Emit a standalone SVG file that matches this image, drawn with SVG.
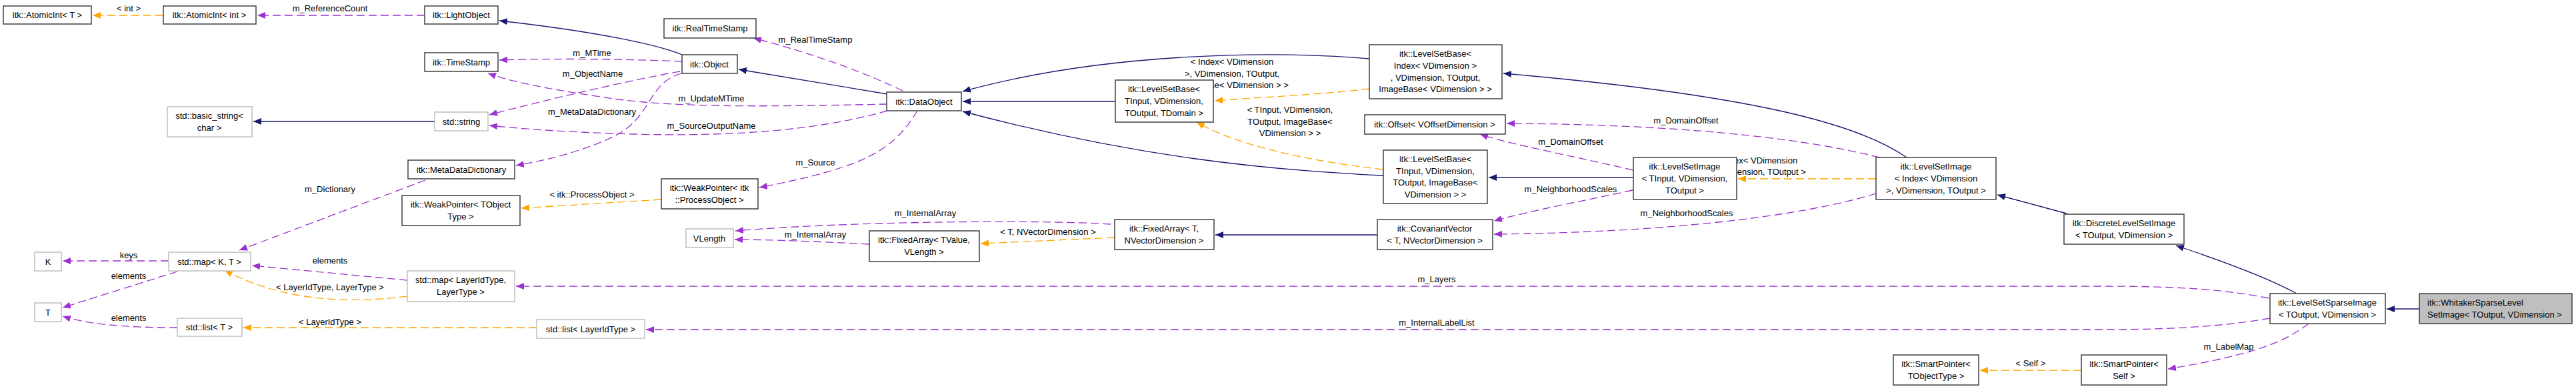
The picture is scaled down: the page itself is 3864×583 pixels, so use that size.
<svg xmlns="http://www.w3.org/2000/svg" width="3864" height="583" viewBox="0 0 3864 583">
<style>
text{font-family:"Liberation Sans",Arial,sans-serif;font-size:13px;fill:#000}
.n rect{fill:#fff;stroke:#404040;stroke-width:1.5}
.g rect{fill:#fff;stroke:#bfbfbf;stroke-width:1.5}
.c text{text-anchor:middle}
.e path{fill:none;stroke-width:1.3}
.inh{stroke:#191970}
.mem{stroke:#9a32cd;stroke-dasharray:12,6}
.tpl{stroke:#ffa500;stroke-dasharray:12,6}
.lbl text{text-anchor:middle}
</style>
<defs>
<marker id="an" viewBox="0 0 12 10" refX="12" refY="5" markerWidth="12" markerHeight="10" markerUnits="userSpaceOnUse" orient="auto"><path d="M0,0L12,5L0,10z" fill="#191970"/></marker>
<marker id="ap" viewBox="0 0 12 10" refX="12" refY="5" markerWidth="12" markerHeight="10" markerUnits="userSpaceOnUse" orient="auto"><path d="M0,0L12,5L0,10z" fill="#9a32cd"/></marker>
<marker id="ao" viewBox="0 0 12 10" refX="12" refY="5" markerWidth="12" markerHeight="10" markerUnits="userSpaceOnUse" orient="auto"><path d="M0,0L12,5L0,10z" fill="#ffa500"/></marker>
</defs>
<rect width="3864" height="583" fill="#fff"/>
<g id="connectors" class="e">
<g class="inh" marker-end="url(#an)">
<path d="M1023,82 C990,68 900,48 749,31"/>
<path d="M1331,141 L1108,104"/>
<path d="M2054,88 C1900,75 1650,80 1444,137"/>
<path d="M1673,152 L1444,152"/>
<path d="M2075,263 C1900,255 1700,235 1444,167"/>
<path d="M2066,352 L1823,352"/>
<path d="M2450,266 L2233,266"/>
<path d="M2860,236 C2780,180 2600,140 2255,110"/>
<path d="M3100,320 L2996,292"/>
<path d="M3445,440 C3400,415 3330,390 3264,368"/>
<path d="M3629,463 L3580,463"/>
<path d="M652,182 L380,182"/>
</g>
<g class="mem" marker-end="url(#ap)">
<path d="M637,23 L386,23"/>
<path d="M1023,92 C950,89 850,87 749,90"/>
<path d="M1020,107 C920,125 800,155 734,172"/>
<path d="M1022,110 C970,125 980,175 920,205 C870,228 820,240 774,248"/>
<path d="M1354,136 C1300,110 1220,80 1130,57"/>
<path d="M1331,156 C1150,160 1000,162 900,145 C820,133 770,123 732,110"/>
<path d="M1331,166 C1230,195 1100,205 950,201 C850,198 780,193 734,188"/>
<path d="M1376,166 C1340,225 1300,250 1139,281"/>
<path d="M638,270 L359,375"/>
<path d="M253,391 L94,391"/>
<path d="M266,407 L94,461"/>
<path d="M266,491 C180,491 130,485 94,474"/>
<path d="M611,420 L378,398"/>
<path d="M1666,336 C1580,330 1300,330 1103,346"/>
<path d="M1304,366 C1230,362 1150,359 1102,359"/>
<path d="M2450,255 C2350,232 2260,215 2220,201"/>
<path d="M2819,236 C2700,205 2500,186 2260,185"/>
<path d="M2449,285 C2380,300 2300,315 2241,331"/>
<path d="M2814,290 C2700,325 2500,348 2241,351"/>
<path d="M3403,447 C3330,432 3250,429 3150,429 L774,429"/>
<path d="M3405,477 C3330,490 3250,494 3150,494 L969,494"/>
<path d="M3463,485 C3430,510 3390,530 3252,553"/>
</g>
<g class="tpl" marker-end="url(#ao)">
<path d="M245,23 L139,23"/>
<path d="M992,299 L782,312"/>
<path d="M611,444 C520,456 420,450 337,405"/>
<path d="M805,491 L365,491"/>
<path d="M1672,356 L1471,365"/>
<path d="M2054,133 C1980,142 1900,145 1822,151"/>
<path d="M2075,254 C1950,240 1850,215 1795,183"/>
<path d="M2814,268 L2607,268"/>
<path d="M3122,555 L2970,555"/>
</g>
<g class="lbl">
<text x="495" y="17">m_ReferenceCount</text>
<text x="888" y="84">m_MTime</text>
<text x="889" y="115">m_ObjectName</text>
<text x="888" y="172">m_MetaDataDictionary</text>
<text x="1223" y="64">m_RealTimeStamp</text>
<text x="1067" y="152">m_UpdateMTime</text>
<text x="1067" y="193">m_SourceOutputName</text>
<text x="1223" y="248">m_Source</text>
<text x="495" y="288">m_Dictionary</text>
<text x="193" y="387">keys</text>
<text x="193" y="418">elements</text>
<text x="193" y="481">elements</text>
<text x="495" y="395">elements</text>
<text x="1388" y="324">m_InternalArray</text>
<text x="1223" y="356">m_InternalArray</text>
<text x="2356" y="217">m_DomainOffset</text>
<text x="2529" y="185">m_DomainOffset</text>
<text x="2356" y="288">m_NeighborhoodScales</text>
<text x="2530" y="324">m_NeighborhoodScales</text>
<text x="2155" y="423">m_Layers</text>
<text x="2155" y="488">m_InternalLabelList</text>
<text x="3343" y="524">m_LabelMap</text>
<text x="193" y="17">&lt; int &gt;</text>
<text x="888" y="296">&lt; itk::ProcessObject &gt;</text>
<text x="495" y="435">&lt; LayerIdType, LayerType &gt;</text>
<text x="495" y="487">&lt; LayerIdType &gt;</text>
<text x="1572" y="352">&lt; T, NVectorDimension &gt;</text>
<text x="1848" y="97" text-anchor="start">&lt; Index&lt; VDimension</text>
<text x="1848" y="115" text-anchor="start">&gt;, VDimension, TOutput,</text>
<text x="1848" y="132" text-anchor="start">ImageBase&lt; VDimension &gt; &gt;</text>
<text x="1935" y="169">&lt; TInput, VDimension,</text>
<text x="1935" y="187">TOutput, ImageBase&lt;</text>
<text x="1935" y="204">VDimension &gt; &gt;</text>
<text x="2634" y="245" text-anchor="start">&lt; Index&lt; VDimension</text>
<text x="2634" y="262" text-anchor="start">&gt;, VDimension, TOutput &gt;</text>
<text x="3046" y="549">&lt; Self &gt;</text>
</g>
</g>
<g id="AtomicIntT" class="n c"><rect x="5" y="9" width="132" height="27"/><text x="71" y="27">itk::AtomicInt&lt; T &gt;</text></g>
<g id="AtomicIntInt" class="n c"><rect x="245" y="9" width="139" height="27"/><text x="314" y="27">itk::AtomicInt&lt; int &gt;</text></g>
<g id="LightObject" class="n c"><rect x="637" y="9" width="110" height="27"/><text x="692" y="27">itk::LightObject</text></g>
<g id="TimeStamp" class="n c"><rect x="637" y="79" width="110" height="28"/><text x="692" y="98">itk::TimeStamp</text></g>
<g id="basicString" class="g c"><rect x="251" y="160" width="127" height="45"/><text x="314" y="178">std::basic_string&lt;</text><text x="314" y="196">char &gt;</text></g>
<g id="stdString" class="g c"><rect x="652" y="168" width="80" height="28"/><text x="692" y="187">std::string</text></g>
<g id="MetaDataDictionary" class="n c"><rect x="612" y="240" width="160" height="28"/><text x="692" y="259">itk::MetaDataDictionary</text></g>
<g id="WeakPointerT" class="n c"><rect x="603" y="293" width="177" height="45"/><text x="691" y="311">itk::WeakPointer&lt; TObject</text><text x="691" y="329">Type &gt;</text></g>
<g id="K" class="g c"><rect x="52" y="378" width="40" height="28"/><text x="72" y="397">K</text></g>
<g id="mapKT" class="g c"><rect x="253" y="378" width="123" height="28"/><text x="314" y="397">std::map&lt; K, T &gt;</text></g>
<g id="T" class="g c"><rect x="52" y="454" width="40" height="28"/><text x="72" y="473">T</text></g>
<g id="listT" class="g c"><rect x="266" y="477" width="97" height="27"/><text x="314" y="495">std::list&lt; T &gt;</text></g>
<g id="mapLayer" class="g c"><rect x="611" y="406" width="161" height="46"/><text x="691" y="424">std::map&lt; LayerIdType,</text><text x="691" y="442">LayerType &gt;</text></g>
<g id="RealTimeStamp" class="n c"><rect x="996" y="28" width="138" height="29"/><text x="1065" y="47">itk::RealTimeStamp</text></g>
<g id="Object" class="n c"><rect x="1023" y="82" width="83" height="28"/><text x="1064" y="101">itk::Object</text></g>
<g id="WeakPointerPO" class="n c"><rect x="992" y="268" width="145" height="45"/><text x="1064" y="286">itk::WeakPointer&lt; itk</text><text x="1064" y="304">::ProcessObject &gt;</text></g>
<g id="VLength" class="g c"><rect x="1029" y="343" width="71" height="28"/><text x="1064" y="362">VLength</text></g>
<g id="listLayer" class="g c"><rect x="805" y="479" width="162" height="28"/><text x="886" y="498">std::list&lt; LayerIdType &gt;</text></g>
<g id="FixedArrayTV" class="n c"><rect x="1304" y="346" width="165" height="46"/><text x="1386" y="364">itk::FixedArray&lt; TValue,</text><text x="1386" y="382">VLength &gt;</text></g>
<g id="DataObject" class="n c"><rect x="1330" y="138" width="112" height="28"/><text x="1386" y="157">itk::DataObject</text></g>
<g id="LevelSetBaseTD" class="n c"><rect x="1673" y="120" width="147" height="63"/><text x="1746" y="138">itk::LevelSetBase&lt;</text><text x="1746" y="156">TInput, VDimension,</text><text x="1746" y="174">TOutput, TDomain &gt;</text></g>
<g id="FixedArrayTN" class="n c"><rect x="1672" y="329" width="149" height="45"/><text x="1746" y="347">itk::FixedArray&lt; T,</text><text x="1746" y="365">NVectorDimension &gt;</text></g>
<g id="LevelSetBaseIdx" class="n c"><rect x="2054" y="67" width="199" height="81"/><text x="2153" y="85">itk::LevelSetBase&lt;</text><text x="2153" y="103">Index&lt; VDimension &gt;</text><text x="2153" y="121">, VDimension, TOutput,</text><text x="2153" y="138">ImageBase&lt; VDimension &gt; &gt;</text></g>
<g id="Offset" class="n c"><rect x="2047" y="172" width="211" height="29"/><text x="2152" y="191">itk::Offset&lt; VOffsetDimension &gt;</text></g>
<g id="LevelSetBaseIB" class="n c"><rect x="2075" y="225" width="156" height="80"/><text x="2153" y="243">itk::LevelSetBase&lt;</text><text x="2153" y="261">TInput, VDimension,</text><text x="2153" y="278">TOutput, ImageBase&lt;</text><text x="2153" y="296">VDimension &gt; &gt;</text></g>
<g id="CovariantVector" class="n c"><rect x="2066" y="329" width="173" height="45"/><text x="2152" y="347">itk::CovariantVector</text><text x="2152" y="365">&lt; T, NVectorDimension &gt;</text></g>
<g id="LevelSetImageTI" class="n c"><rect x="2450" y="236" width="155" height="63"/><text x="2527" y="254">itk::LevelSetImage</text><text x="2527" y="272">&lt; TInput, VDimension,</text><text x="2527" y="290">TOutput &gt;</text></g>
<g id="LevelSetImageIdx" class="n c"><rect x="2814" y="236" width="180" height="63"/><text x="2904" y="254">itk::LevelSetImage</text><text x="2904" y="272">&lt; Index&lt; VDimension</text><text x="2904" y="290">&gt;, VDimension, TOutput &gt;</text></g>
<g id="DiscreteLevelSetImage" class="n c"><rect x="3096" y="321" width="180" height="45"/><text x="3186" y="339">itk::DiscreteLevelSetImage</text><text x="3186" y="357">&lt; TOutput, VDimension &gt;</text></g>
<g id="SmartPointerT" class="n c"><rect x="2840" y="532" width="128" height="45"/><text x="2904" y="550">itk::SmartPointer&lt;</text><text x="2904" y="568">TObjectType &gt;</text></g>
<g id="SmartPointerSelf" class="n c"><rect x="3122" y="532" width="128" height="45"/><text x="3186" y="550">itk::SmartPointer&lt;</text><text x="3186" y="568">Self &gt;</text></g>
<g id="LevelSetSparseImage" class="n c"><rect x="3405" y="440" width="173" height="45"/><text x="3491" y="458">itk::LevelSetSparseImage</text><text x="3491" y="476">&lt; TOutput, VDimension &gt;</text></g>
<g id="Whitaker" class="n"><rect x="3629" y="440" width="229" height="45" style="fill:#bfbfbf"/><text x="3641" y="458">itk::WhitakerSparseLevel</text><text x="3641" y="476">SetImage&lt; TOutput, VDimension &gt;</text></g>
</svg>
